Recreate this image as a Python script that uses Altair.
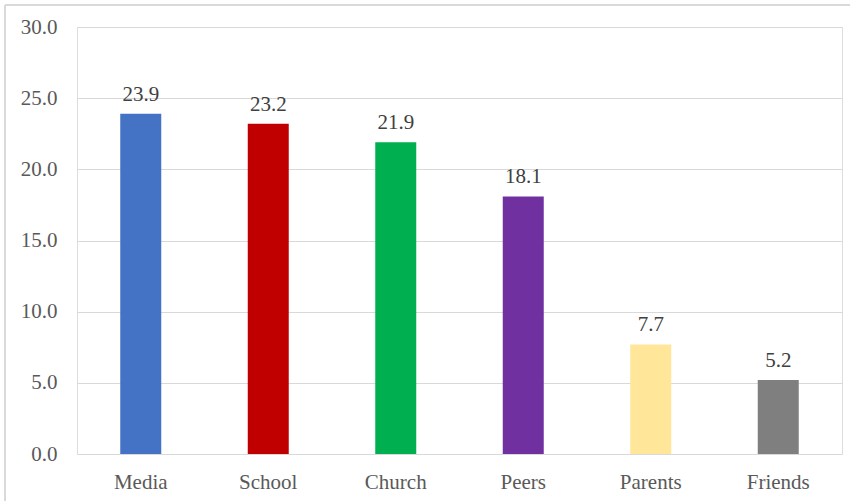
import altair as alt
import pandas as pd

categories = ["Media", "School", "Church", "Peers", "Parents", "Friends"]
values = [23.9, 23.2, 21.9, 18.1, 7.7, 5.2]
colors = ["#4472C4", "#C00000", "#00B050", "#7030A0", "#FFE699", "#7F7F7F"]

df = pd.DataFrame({"category": categories, "value": values})

FONT = "'Times New Roman', 'Liberation Serif', Tinos, serif"

x = alt.X("category:N", sort=categories, title=None,
          scale=alt.Scale(paddingInner=0, paddingOuter=0),
          axis=alt.Axis(labelAngle=0, ticks=False, domain=False, grid=False,
                        labelFont=FONT, labelFontSize=21, labelColor="#595959",
                        labelBaseline="alphabetic", labelPadding=34))
y = alt.Y("value:Q", title=None,
          scale=alt.Scale(domain=[0, 30], nice=False),
          axis=alt.Axis(values=[0, 5, 10, 15, 20, 25, 30], format=".1f",
                        ticks=False, domain=False, grid=True, gridColor="#D9D9D9",
                        gridWidth=1, labelFont=FONT, labelFontSize=21,
                        labelColor="#595959", labelPadding=20))

bars = alt.Chart(df).mark_bar(size=41).encode(
    x=x, y=y,
    color=alt.Color("category:N", sort=categories,
                    scale=alt.Scale(domain=categories, range=colors), legend=None),
)

labels = alt.Chart(df).mark_text(
    font=FONT, fontSize=21, color="#404040", baseline="alphabetic", dy=-13
).encode(
    x=alt.X("category:N", sort=categories),
    y="value:Q",
    text=alt.Text("value:Q", format=".1f"),
)

frame_left = alt.Chart(df).mark_rule(color="#D9D9D9", strokeWidth=1).encode(
    x=alt.value(-72), y=alt.value(-22), y2=alt.value(480)
)
frame_top = alt.Chart(df).mark_rule(color="#D9D9D9", strokeWidth=1).encode(
    x=alt.value(-72), x2=alt.value(780), y=alt.value(-22)
)

chart = alt.layer(frame_left, frame_top, bars, labels).properties(
    width=765, height=427,
    autosize=alt.AutoSizeParams(type="none"),
    padding={"left": 77, "top": 27, "right": 8, "bottom": 47},
).configure_view(stroke=None).configure(background="white")

chart.save("out.html", embed_options={"renderer": "svg", "actions": False})
